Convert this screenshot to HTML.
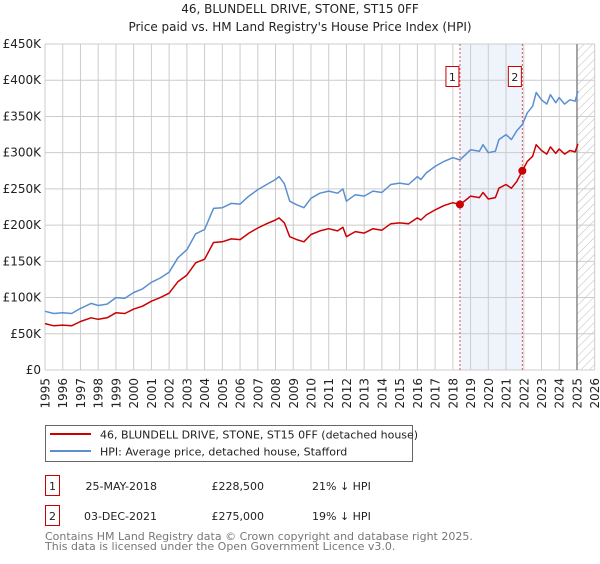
<!DOCTYPE html>
<html><head><meta charset="utf-8">
<style>
body{margin:0;background:#fff;font-family:"DejaVu Sans","Liberation Sans",sans-serif;}
svg text{font-family:"DejaVu Sans","Liberation Sans",sans-serif;}
</style></head>
<body>
<svg id="chart" width="600" height="560" viewBox="0 0 600 560" xmlns="http://www.w3.org/2000/svg">
<defs>
<pattern id="hatch" width="6" height="6" patternUnits="userSpaceOnUse" patternTransform="rotate(45)">
<line x1="0" y1="0" x2="0" y2="6" stroke="#bbb" stroke-width="1"/>
</pattern>
</defs>
<text x="300" y="13" text-anchor="middle" font-size="12" fill="#222">46, BLUNDELL DRIVE, STONE, ST15 0FF</text>
<text x="300" y="31" text-anchor="middle" font-size="12" fill="#222">Price paid vs. HM Land Registry's House Price Index (HPI)</text>
<g id="plot"></g>
<g>
<rect x="45.5" y="425.5" width="367" height="36" fill="#fff" stroke="#666"/>
<line x1="50" y1="434" x2="91" y2="434" stroke="#cc0000" stroke-width="2"/>
<text x="100" y="438.5" font-size="11" fill="#222">46, BLUNDELL DRIVE, STONE, ST15 0FF (detached house)</text>
<line x1="50" y1="451" x2="91" y2="451" stroke="#5b8fd0" stroke-width="2"/>
<text x="100" y="455.5" font-size="11" fill="#222">HPI: Average price, detached house, Stafford</text>
</g>
<g>
<rect x="45.5" y="475.5" width="14" height="20" fill="#fff" stroke="#cc0000"/>
<text x="52.5" y="490" text-anchor="middle" font-size="11" fill="#222">1</text>
<text x="157" y="490" text-anchor="end" font-size="11" fill="#222">25-MAY-2018</text>
<text x="264" y="490" text-anchor="end" font-size="11" fill="#222">£228,500</text>
<text x="312" y="490" font-size="11" fill="#222">21% ↓ HPI</text>
<rect x="45.5" y="505.5" width="14" height="20" fill="#fff" stroke="#cc0000"/>
<text x="52.5" y="520" text-anchor="middle" font-size="11" fill="#222">2</text>
<text x="157" y="520" text-anchor="end" font-size="11" fill="#222">03-DEC-2021</text>
<text x="264" y="520" text-anchor="end" font-size="11" fill="#222">£275,000</text>
<text x="312" y="520" font-size="11" fill="#222">19% ↓ HPI</text>
</g>
<text x="45" y="540" font-size="11" fill="#777">Contains HM Land Registry data © Crown copyright and database right 2025.</text>
<text x="45" y="550" font-size="11" fill="#777">This data is licensed under the Open Government Licence v3.0.</text>
</svg>
<script>
const years=[1995,1995.5,1996,1996.5,1997,1997.6,1998,1998.5,1999,1999.5,2000,2000.5,2001,2001.5,2002,2002.5,2003,2003.5,2004,2004.5,2005,2005.5,2006,2006.5,2007,2007.5,2008,2008.2,2008.5,2008.8,2009.2,2009.6,2010,2010.5,2011,2011.5,2011.8,2012,2012.5,2013,2013.5,2014,2014.5,2015,2015.5,2016,2016.2,2016.5,2017,2017.5,2018,2018.4,2018.7,2019,2019.5,2019.7,2020,2020.4,2020.6,2021,2021.3,2021.6,2021.92,2022.2,2022.5,2022.7,2023,2023.3,2023.5,2023.8,2024,2024.3,2024.6,2024.9,2025.05];
const hpiValues=[81,78,79,78,85,92,89,91,100,99,107,112,121,127,135,155,166,188,194,223,224,230,229,240,249,256,263,267,257,233,228,224,237,244,247,244,250,233,242,240,247,245,256,258,256,267,263,272,281,288,293,290,297,304,302,311,300,302,318,325,318,330,339,355,364,383,373,367,380,369,376,367,373,371,385];
const priceValues=[64,61,62,61,67,72,70,72,79,78,84,88,95,100,106,122,131,148,153,176,177,181,180,189,196,202,207,210,203,184,180,177,187,192,195,192,197,184,191,189,195,193,202,203,202,210,207,214,221,227,231,228.5,234,240,238,245,236,238,251,256,251,260,275,288,295,311,303,298,308,299,305,298,303,301,312];
const saleYears=[2018.4,2021.92];
const salePrices=[228.5,275];
const saleLabels=["1","2"];
const yTicks=[0,50,100,150,200,250,300,350,400,450];
const yTickLabels=["£0","£50K","£100K","£150K","£200K","£250K","£300K","£350K","£400K","£450K"];
const xTicks=[1995,1996,1997,1998,1999,2000,2001,2002,2003,2004,2005,2006,2007,2008,2009,2010,2011,2012,2013,2014,2015,2016,2017,2018,2019,2020,2021,2022,2023,2024,2025,2026];

const NS="http://www.w3.org/2000/svg";
const L=45,R=594.7,T=44,B=370;
const X=y=>L+(y-1995)/31*(R-L);
const Y=v=>B-v/450*(B-T);
const g=document.getElementById('plot');
function mk(tag,attrs){const e=document.createElementNS(NS,tag);for(const k in attrs)e.setAttribute(k,attrs[k]);g.appendChild(e);return e;}

let sh=mk('rect',{x:X(saleYears[0]),y:T,width:X(saleYears[1])-X(saleYears[0]),height:B-T,fill:'#eef3fc'});


let ht=mk('rect',{x:X(2025),y:T,width:R-X(2025),height:B-T,fill:'url(#hatch)'});


yTicks.forEach((v,i)=>{
  let ln=mk('line',{x1:L,x2:R,y1:Y(v),y2:Y(v),stroke:'#cccccc','stroke-width':1});
  
  
  let t=mk('text',{x:L-4,y:Y(v)+4,'text-anchor':'end','font-size':12,fill:'#222'});
  t.textContent=yTickLabels[i];
  
  
});
xTicks.forEach(yr=>{
  let ln=mk('line',{x1:X(yr),x2:X(yr),y1:T,y2:B,stroke:'#cccccc','stroke-width':1});
  
  
  const tx=X(yr)+4.5, ty=B+8;
  let t=mk('text',{x:tx,y:ty,'text-anchor':'end','font-size':12,fill:'#222',transform:'rotate(-90 '+tx+' '+ty+')'});
  t.textContent=yr;
  
  
});
let nl=mk('line',{x1:X(2025),x2:X(2025),y1:T,y2:B,stroke:'#888','stroke-width':1.5});


saleYears.forEach((sy,i)=>{
  let ln=mk('line',{x1:X(sy),x2:X(sy),y1:T,y2:B,stroke:'#e05050','stroke-width':1,'stroke-dasharray':'2,2'});
  
  
  let bx=mk('rect',{x:X(sy)-14,y:66.5,width:13,height:20,fill:'#fff',stroke:'#cc0000'});
  
  
  let t=mk('text',{x:X(sy)-7.5,y:81,'text-anchor':'middle','font-size':11,fill:'#222'});
  t.textContent=saleLabels[i];
});
function pts(vals){return years.map((y,i)=>X(y).toFixed(1)+','+Y(vals[i]).toFixed(1)).join(' ');}
let hl=mk('polyline',{points:pts(hpiValues),fill:'none',stroke:'#5b8fd0','stroke-width':1.5,'stroke-linejoin':'round'});


let pl=mk('polyline',{points:pts(priceValues),fill:'none',stroke:'#cc0000','stroke-width':1.5,'stroke-linejoin':'round'});


saleYears.forEach((sy,i)=>{
  let c=mk('circle',{cx:X(sy),cy:Y(salePrices[i]),r:4,fill:'#cc0000'});
  
  
});
</script>
</body></html>
